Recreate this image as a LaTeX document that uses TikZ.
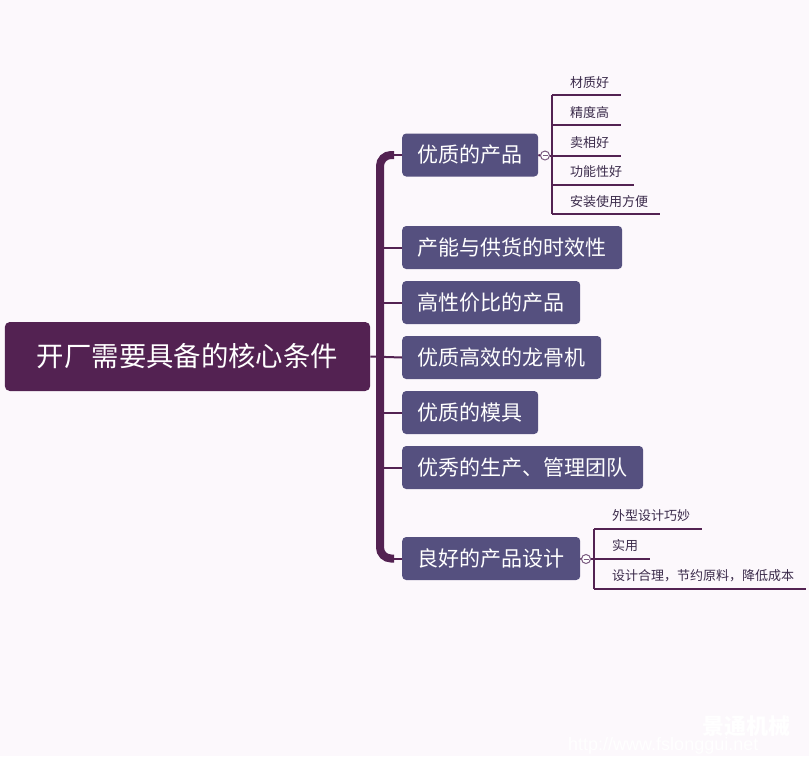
\documentclass[tikz,border=0pt]{standalone}
\usepackage{fontspec}
\setmainfont{Noto Sans CJK SC}
\newfontfamily\wmfont{Liberation Sans}
\definecolor{bgc}{HTML}{FCF8FC}
\definecolor{rootc}{HTML}{532252}
\definecolor{boxc}{HTML}{55507F}
\definecolor{linec}{HTML}{532252}
\definecolor{leaftxt}{HTML}{3B2B4B}
\definecolor{knobc}{HTML}{7A5A80}
\begin{document}
\begin{tikzpicture}[x=1pt,y=-1pt,
  rootbox/.style={fill=rootc,text=white,rounded corners=5pt,inner xsep=32pt,inner ysep=0pt,minimum height=69pt,font=\fontsize{27.4}{30}\selectfont},
  mainbox/.style={fill=boxc,text=white,rounded corners=4pt,inner xsep=15.5pt,inner ysep=0pt,minimum height=43pt,anchor=west,font=\fontsize{21}{24}\selectfont},
  leaf/.style={text=leaftxt,anchor=base west,inner sep=0pt,font=\fontsize{13}{15}\selectfont},
  thin/.style={draw=linec,line width=2pt},
  trunk/.style={draw=linec,line width=8pt,rounded corners=11pt},
  knob/.style={circle,draw=knobc,fill=white,line width=1pt,minimum size=9pt,inner sep=0pt}
]
\useasboundingbox (0,0) rectangle (809,756);
\fill[bgc] (0,0) rectangle (809,756);

% root
\node[rootbox] (root) at (187.5,356.5) {开厂需要具备的核心条件};

% main boxes
\node[mainbox] (b1) at (402,155) {优质的产品};
\node[mainbox] (b2) at (402,247.5) {产能与供货的时效性};
\node[mainbox] (b3) at (402,302.5) {高性价比的产品};
\node[mainbox] (b4) at (402,357.5) {优质高效的龙骨机};
\node[mainbox] (b5) at (402,412.5) {优质的模具};
\node[mainbox] (b6) at (402,467.5) {优秀的生产、管理团队};
\node[mainbox] (b7) at (402,558.5) {良好的产品设计};

% trunk
\coordinate (tt) at (394,155);
\coordinate (tb) at (394,558.5);
\draw[trunk] (tt) -- (380,155) -- (380,558.5) -- (tb);
\draw[thin] (tt) -- (b1.west);
\draw[thin] (tb) -- (b7.west);
\foreach \b in {b2,b3,b5,b6} { \draw[thin] (380,0 |- \b.west) -- (\b.west); }
\draw[thin] (root.east) -- (b4.west);

% sub-branches of b1
\node[knob] (k1) at (545,155.5) {};
\draw[knobc,line width=0.9pt] ([xshift=-2.5pt]k1.center) -- ([xshift=2.5pt]k1.center);
\draw[thin] (b1.east) -- (k1.west);
\coordinate (v1) at (552,155.5);
\draw[thin] (k1.east) -- (v1);
\coordinate (v1t) at (552,95);
\coordinate (v1b) at (552,214);
\draw[thin] (v1t) -- (v1b);
\coordinate (u11) at (621,95);
\coordinate (u12) at (621,125);
\coordinate (u13) at (621,155.5);
\coordinate (u14) at (634,184.5);
\coordinate (u15) at (660,214);
\draw[thin] (v1t) -- (u11);
\draw[thin] (552,125) -- (u12);
\draw[thin] (v1) -- (u13);
\draw[thin] (552,184.5) -- (u14);
\draw[thin] (v1b) -- (u15);
\node[leaf] (l11) at (570,87) {材质好};
\node[leaf] (l12) at (570,117) {精度高};
\node[leaf] (l13) at (570,147) {卖相好};
\node[leaf] (l14) at (570,176.5) {功能性好};
\node[leaf] (l15) at (570,206) {安装使用方便};

% sub-branches of b7
\node[knob] (k7) at (586,559) {};
\draw[knobc,line width=0.9pt] ([xshift=-2.5pt]k7.center) -- ([xshift=2.5pt]k7.center);
\draw[thin] (b7.east) -- (k7.west);
\coordinate (v7) at (594,559);
\draw[thin] (k7.east) -- (v7);
\coordinate (v7t) at (594,529);
\coordinate (v7b) at (594,589);
\draw[thin] (v7t) -- (v7b);
\coordinate (u71) at (702,529);
\coordinate (u72) at (650,559);
\coordinate (u73) at (806,589);
\draw[thin] (v7t) -- (u71);
\draw[thin] (v7) -- (u72);
\draw[thin] (v7b) -- (u73);
\node[leaf] (l71) at (612,520.5) {外型设计巧妙};
\node[leaf] (l72) at (612,550.5) {实用};
\node[leaf] (l73) at (612,580.5) {设计合理，节约原料，降低成本};

% watermark
\node[text=white,anchor=base west,inner sep=0pt,font=\wmfont\fontsize{18}{20}\selectfont] (wm1) at (568,750) {http://www.fslonggui.net};
\node[text=white,anchor=base west,inner sep=0pt,font=\fontsize{22}{24}\selectfont\bfseries] (wm2) at (702,734) {景通机械};
\end{tikzpicture}
\end{document}
